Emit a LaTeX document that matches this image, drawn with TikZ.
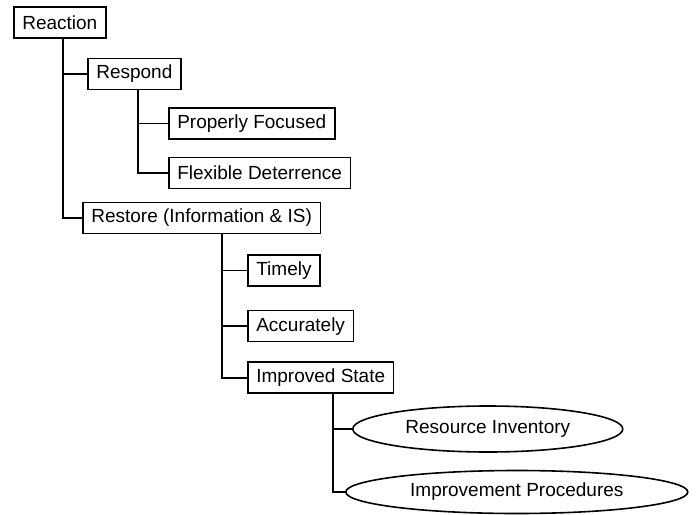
\documentclass[tikz,border=0pt]{standalone}
\usepackage{fontspec}
\setmainfont{Liberation Sans}
\usetikzlibrary{positioning, shapes.geometric}

\begin{document}
\begin{tikzpicture}[
    box/.style={rectangle, draw, line width=1.6pt, minimum height=31pt, inner xsep=8.5pt, inner ysep=2pt, font=\fontsize{19}{22}\selectfont},
    oval/.style={ellipse, draw, line width=1.6pt, inner sep=2pt, font=\fontsize{19}{22}\selectfont},
    link/.style={line width=1.6pt},
]
\useasboundingbox (0,0) rectangle (696pt,-514pt);

\node[box, anchor=north west] (reaction) at (13pt,-6pt) {Reaction};
\node[box, below right=19pt and 74pt of reaction.south west] (respond) {Respond};
\node[box, below right=17pt and 81pt of respond.south west] (focused) {Properly Focused};
\node[box, below right=17pt and 0pt of focused.south west] (flexible) {Flexible Deterrence};
\node[box, below right=163pt and 69pt of reaction.south west] (restore) {Restore (Information \& IS)};
\node[box, below right=20pt and 165pt of restore.south west] (timely) {Timely};
\node[box, below right=23pt and 0pt of timely.south west] (accurate) {Accurately};
\node[box, below right=19pt and 0pt of accurate.south west] (improved) {Improved State};
\node[oval, minimum width=270pt, minimum height=46pt, below right=35pt and 105pt of improved.south west, anchor=west] (inventory) {Resource Inventory};
\node[oval, minimum width=342pt, minimum height=43pt, below right=63pt and -7pt of inventory.west, anchor=west] (procedures) {Improvement Procedures};

% tree links
\draw[link] ([xshift=50pt]reaction.south west) |- (respond.west);
\draw[link] ([xshift=50pt]reaction.south west) |- (restore.west);
\draw[link] ([xshift=51pt]respond.south west) |- (focused.west);
\draw[link] ([xshift=51pt]respond.south west) |- (flexible.west);
\draw[link] ([xshift=140pt]restore.south west) |- (timely.west);
\draw[link] ([xshift=140pt]restore.south west) |- (accurate.west);
\draw[link] ([xshift=140pt]restore.south west) |- (improved.west);
\draw[link] ([xshift=86pt]improved.south west) |- (inventory.west);
\draw[link] ([xshift=86pt]improved.south west) |- (procedures.west);
\end{tikzpicture}
\end{document}
